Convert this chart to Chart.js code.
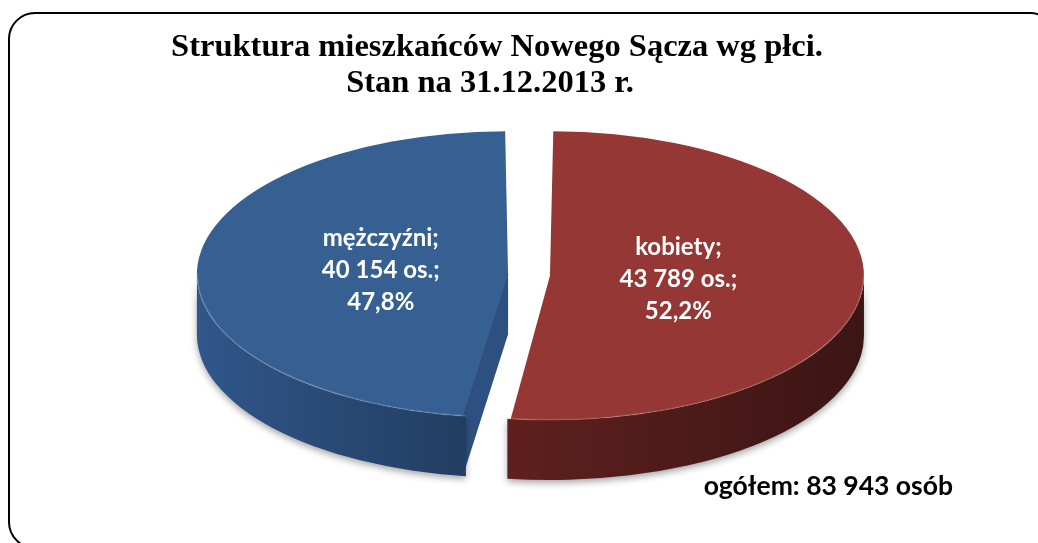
<!DOCTYPE html>
<html lang="pl">
<head>
<meta charset="utf-8">
<title>Struktura mieszkańców Nowego Sącza wg płci</title>
<script src="https://cdn.jsdelivr.net/npm/chart.js@4.4.1/dist/chart.umd.min.js"></script>
<style>
  html, body { margin: 0; padding: 0; background: #fff; }
  #chart { display: block; }
</style>
</head>
<body>
<canvas id="chart" width="1038" height="543"></canvas>
<script>
// data
const categories = ['kobiety', 'mężczyźni'];
const residents = [43789, 40154];
const titleLines = ['Struktura mieszkańców Nowego Sącza wg płci.', 'Stan na 31.12.2013 r.'];
const totalLabel = 'ogółem';

// look
const topColors = ['#953735', '#376092'];
const rimColors = [['#5e201e', '#3b1514'], ['#30568a', '#223d61']];
const sideColors = ['#4a1a18', '#2e5080'];
const SQUASH = 0.46;   // vertical flattening of the pie top
const DEPTH = 60;      // thickness of the pie, px
const EXPLODE = 21;    // how far each slice is pulled out, px

const total = residents.reduce((a, b) => a + b, 0);
const fmt = v => String(v).replace(/\B(?=(\d{3})+(?!\d))/g, ' ');
const pct = v => (v / total * 100).toFixed(1).replace('.', ',') + '%';

// centre of an exploded slice, in screen space
function sliceCentre(arc) {
  const mid = (arc.startAngle + arc.endAngle) / 2;
  return [arc.x + Math.cos(mid) * EXPLODE, arc.y + Math.sin(mid) * EXPLODE * SQUASH];
}
// ArcElement grows an offset slice's radius a bit; follow it so the walls line up
function topRadius(arc) {
  return arc.outerRadius + EXPLODE * (1 - Math.sin(Math.min(Math.PI, arc.circumference)));
}
function pt(cx, cy, r, a) {
  return [cx + r * Math.cos(a), cy + r * SQUASH * Math.sin(a)];
}
// part of [s, e] that lies on the front half of the rim
function frontRange(s, e) {
  for (let k = -1; k <= 1; k++) {
    const a = Math.max(s, 2 * Math.PI * k);
    const b = Math.min(e, Math.PI + 2 * Math.PI * k);
    if (b > a) return [a, b];
  }
  return null;
}

const pie3d = {
  id: 'pie3d',
  beforeDraw(chart) {
    const ctx = chart.ctx;
    ctx.save();
    ctx.strokeStyle = '#000';
    ctx.lineWidth = 2;
    ctx.beginPath();
    ctx.roundRect(9, 13, 1047, 535, 26);
    ctx.stroke();
    ctx.restore();
  },
  beforeDatasetsDraw(chart) {
    const ctx = chart.ctx;
    const arcs = chart.getDatasetMeta(0).data;

    // straight side walls of the slices; pushed a few px under the top face
    // and the rim so no light seam shows along the joins
    arcs.forEach((arc, i) => {
      const [cx, cy] = sliceCentre(arc);
      const r = topRadius(arc);
      const walls = [];
      if (Math.cos(arc.startAngle) < -1e-6) walls.push(arc.startAngle);
      if (Math.cos(arc.endAngle) > 1e-6) walls.push(arc.endAngle);
      walls.forEach(a => {
        const [px, py] = pt(cx, cy, r, a);
        const dx = Math.cos(a) < 0 ? -3 : 3;
        ctx.beginPath();
        ctx.moveTo(cx + dx, cy - 3);
        ctx.lineTo(px + dx, py - 3);
        ctx.lineTo(px + dx, py + DEPTH);
        ctx.lineTo(cx, cy + DEPTH);
        ctx.lineTo(cx, cy);
        ctx.closePath();
        ctx.fillStyle = sideColors[i];
        ctx.fill();
      });
    });

    // curved outer rim
    arcs.forEach((arc, i) => {
      const [cx, cy] = sliceCentre(arc);
      const r = topRadius(arc);
      const rng = frontRange(arc.startAngle, arc.endAngle);
      if (!rng) return;
      const [a, b] = rng;
      const x0 = Math.min(pt(cx, cy, r, a)[0], pt(cx, cy, r, b)[0], a <= Math.PI && b >= Math.PI ? cx - r : Infinity);
      const x1 = Math.max(pt(cx, cy, r, a)[0], pt(cx, cy, r, b)[0], a <= 0 && b >= 0 ? cx + r : -Infinity);
      const g = ctx.createLinearGradient(x0, 0, x1, 0);
      g.addColorStop(0, rimColors[i][0]);
      g.addColorStop(1, rimColors[i][1]);
      ctx.save();
      ctx.shadowColor = 'rgba(0,0,0,0.35)';
      ctx.shadowBlur = 7;
      ctx.shadowOffsetY = 3;
      ctx.beginPath();
      ctx.ellipse(cx, cy, r, r * SQUASH, 0, a, b);
      ctx.ellipse(cx, cy + DEPTH, r, r * SQUASH, 0, b, a, true);
      ctx.closePath();
      ctx.fillStyle = g;
      ctx.fill();
      ctx.restore();
    });

    // flatten the top faces that Chart.js draws next
    const cy0 = arcs[0].y;
    ctx.save();
    ctx.translate(0, cy0);
    ctx.scale(1, SQUASH);
    ctx.translate(0, -cy0);
  },
  afterDatasetsDraw(chart) {
    const ctx = chart.ctx;
    ctx.restore();
    const arcs = chart.getDatasetMeta(0).data;

    // light edge where top meets rim
    arcs.forEach(arc => {
      const [cx, cy] = sliceCentre(arc);
      const r = topRadius(arc);
      const rng = frontRange(arc.startAngle, arc.endAngle);
      if (!rng) return;
      ctx.beginPath();
      ctx.ellipse(cx, cy, r - 0.5, (r - 0.5) * SQUASH, 0, rng[0], rng[1]);
      ctx.strokeStyle = 'rgba(255,255,255,0.16)';
      ctx.lineWidth = 1.5;
      ctx.stroke();
    });

    // slice labels
    ctx.save();
    ctx.fillStyle = '#fff';
    ctx.font = 'bold 24px Lato';
    ctx.textAlign = 'center';
    ctx.textBaseline = 'middle';
    arcs.forEach((arc, i) => {
      const [cx, cy] = sliceCentre(arc);
      const mid = (arc.startAngle + arc.endAngle) / 2;
      const [lx, ly] = pt(cx, cy, topRadius(arc) * 0.41, mid);
      const v = residents[i];
      const lines = [categories[i] + ';', fmt(v) + ' os.;', pct(v)];
      lines.forEach((t, k) => ctx.fillText(t, lx, ly + (k - 1) * 32));
    });
    ctx.restore();
  },
  afterDraw(chart) {
    const ctx = chart.ctx;
    ctx.save();
    ctx.fillStyle = '#000';
    ctx.textAlign = 'center';
    ctx.textBaseline = 'alphabetic';
    ctx.font = 'bold 32.5px "Liberation Serif"';
    ctx.fillText(titleLines[0], 497, 56);
    ctx.fillText(titleLines[1], 490, 92);
    ctx.font = 'bold 26.5px Lato';
    ctx.textAlign = 'right';
    ctx.fillText(totalLabel + ': ' + fmt(total) + ' osób', 953, 495);
    ctx.restore();
  }
};

new Chart(document.getElementById('chart'), {
  type: 'pie',
  data: {
    labels: categories,
    datasets: [{
      data: residents,
      backgroundColor: topColors,
      borderWidth: 0,
      offset: EXPLODE * 4,   // ArcElement moves a slice by offset / 4
      radius: 293,
      clip: false
    }]
  },
  options: {
    responsive: false,
    animation: false,
    devicePixelRatio: 1,
    events: [],
    layout: { padding: { left: 20, right: 0, top: 7, bottom: 0 } },
    plugins: {
      legend: { display: false },
      tooltip: { enabled: false },
      title: { display: false }
    }
  },
  plugins: [pie3d]
});
</script>
</body>
</html>
